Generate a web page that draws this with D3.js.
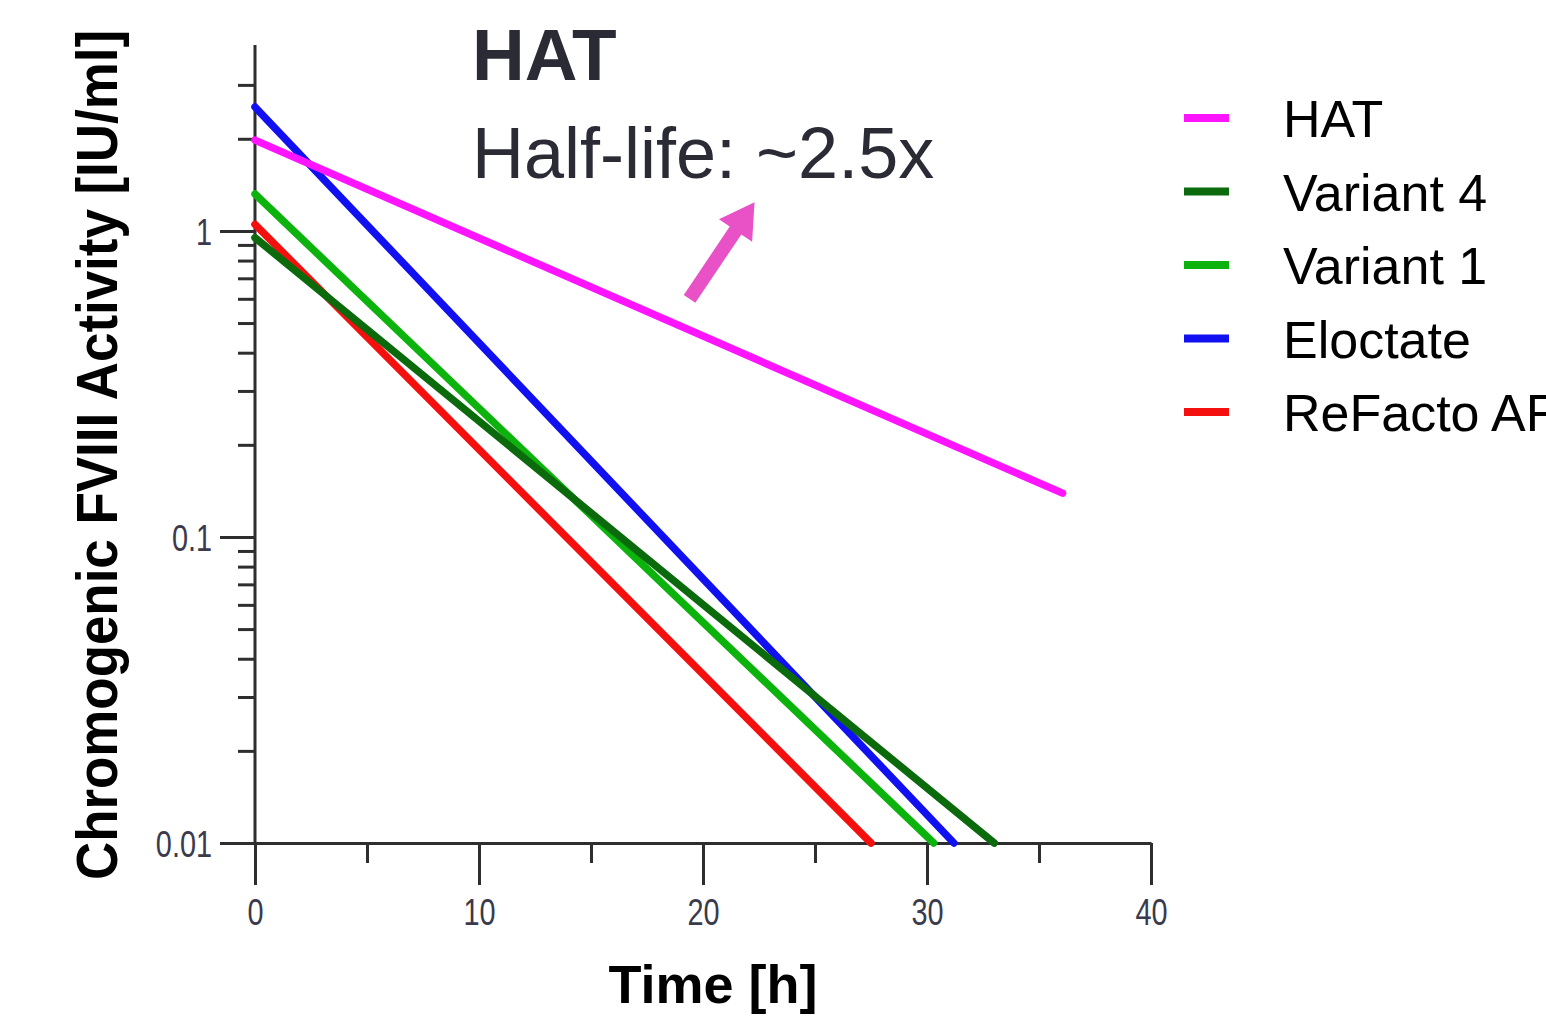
<!DOCTYPE html>
<html>
<head>
<meta charset="utf-8">
<script src="https://cdn.jsdelivr.net/npm/d3@7"></script>
<style>
    body { margin: 0; background: #fff; overflow: hidden; }
    svg { display: block; font-family: "Liberation Sans", Arial, sans-serif; }
</style>
</head>
<body>
<svg width="1546" height="1016"></svg>
<script>
// values: [time h, activity IU/ml], straight decay on log scale
const seriesNames = ["HAT", "Variant 4", "Variant 1", "Eloctate", "ReFacto AF"];
const hatValues = [[0, 1.98], [36.05, 0.139]];
const variant4Values = [[0, 0.95], [33.0, 0.01]];
const variant1Values = [[0, 1.32], [30.3, 0.01]];
const eloctateValues = [[0, 2.54], [31.2, 0.01]];
const refactoValues = [[0, 1.05], [27.5, 0.01]];
const seriesColors = ["#ff14ff", "#0b6a0b", "#0cb30c", "#1010f0", "#f51010"];

const xTicks = [0, 10, 20, 30, 40];
const xMinorTicks = [5, 15, 25, 35];
const yTicks = [0.01, 0.1, 1];
const yTickLabels = ["0.01", "0.1", "1"];

const arrowFrom = [19.4, 0.60];
const arrowTo = [22.3, 1.24];

const margin = { left: 255, top: 45, right: 395, bottom: 173 };
const labelScaleX = 0.78;

let svg = d3.select("svg");
let width = +svg.attr("width");
let height = +svg.attr("height");

let x = d3.scaleLinear([0, 40], [margin.left, width - margin.right]);
let y = d3.scaleLog([0.01, 4.05], [height - margin.bottom, margin.top]);

const axisColor = "#2e2e2e";
const tickTextColor = "#3a3a4c";

// y axis: minor ticks first, then labelled majors
let yMinor = y.ticks().filter(v => !yTicks.includes(v) && v < 4);
svg.append("g")
    .attr("class", "y-minor")
    .attr("transform", `translate(${x(0)},0)`)
    .call(d3.axisLeft(y).tickValues(yMinor).tickSize(17).tickFormat(""))
    .call(g => g.select(".domain").remove());

svg.append("g")
    .attr("class", "y-axis")
    .attr("transform", `translate(${x(0)},0)`)
    .call(d3.axisLeft(y).tickValues(yTicks).tickSize(35).tickSizeOuter(0)
        .tickFormat((d, i) => yTickLabels[i]))
    .call(g => g.select(".domain").attr("d", `M0,${y(0.01)}V${margin.top}`));

// x axis
svg.append("g")
    .attr("class", "x-minor")
    .attr("transform", `translate(0,${y(0.01)})`)
    .call(d3.axisBottom(x).tickValues(xMinorTicks).tickSize(20).tickFormat(""))
    .call(g => g.select(".domain").remove());

svg.append("g")
    .attr("class", "x-axis")
    .attr("transform", `translate(0,${y(0.01)})`)
    .call(d3.axisBottom(x).tickValues(xTicks).tickSize(42).tickSizeOuter(0));

svg.selectAll(".y-minor, .y-axis, .x-minor, .x-axis")
    .call(g => g.selectAll("line, path").attr("stroke", axisColor).attr("stroke-width", 3))
    .call(g => g.selectAll("text")
        .attr("fill", tickTextColor)
        .style("font-size", "37px")
        .attr("font-family", "'Liberation Sans', Arial, sans-serif"));

svg.select(".y-axis").selectAll("text")
    .attr("x", -43 / labelScaleX)
    .attr("dy", "0.36em")
    .attr("transform", `scale(${labelScaleX},1)`);

svg.select(".x-axis").selectAll("text")
    .attr("y", 56)
    .attr("dy", "0.71em")
    .attr("transform", `scale(${labelScaleX},1)`);

// series lines
const allSeries = [hatValues, variant4Values, variant1Values, eloctateValues, refactoValues];
let line = d3.line().x(d => x(d[0])).y(d => y(d[1]));

svg.selectAll(".series")
    .data(allSeries.map((values, i) => ({ values, color: seriesColors[i] })).reverse())
    .join("path")
    .attr("class", "series")
    .attr("fill", "none")
    .attr("stroke", d => d.color)
    .attr("stroke-width", 7.5)
    .attr("stroke-linecap", "round")
    .attr("d", d => line(d.values));

// annotation
svg.append("text")
    .attr("x", 472).attr("y", 80)
    .attr("fill", "#2b2b36")
    .style("font-size", "73px").style("font-weight", "bold")
    .text("HAT");
svg.append("text")
    .attr("x", 472).attr("y", 178)
    .attr("fill", "#2b2b36")
    .style("font-size", "72px")
    .text("Half-life: ~2.5x");

const arrow = selection => {
    let x1 = x(arrowFrom[0]), y1 = y(arrowFrom[1]);
    let x2 = x(arrowTo[0]), y2 = y(arrowTo[1]);
    let len = Math.hypot(x2 - x1, y2 - y1);
    let angle = Math.atan2(y2 - y1, x2 - x1) * 180 / Math.PI;
    let shaft = 7, head = 20, headLen = 34;
    let pts = [[0, -shaft], [len - headLen, -shaft], [len - headLen, -head], [len, 0],
               [len - headLen, head], [len - headLen, shaft], [0, shaft]];
    selection.append("path")
        .attr("d", d3.line()(pts) + "Z")
        .attr("fill", "#e852c6")
        .attr("transform", `translate(${x1},${y1}) rotate(${angle})`);
};
svg.call(arrow);

// axis titles
svg.append("text")
    .attr("x", 713).attr("y", 1003)
    .attr("text-anchor", "middle")
    .style("font-size", "54px").style("font-weight", "bold")
    .text("Time [h]");

svg.append("text")
    .attr("transform", "translate(117,880) rotate(-90)")
    .attr("textLength", 850)
    .attr("lengthAdjust", "spacingAndGlyphs")
    .style("font-size", "58px").style("font-weight", "bold")
    .text("Chromogenic FVIII Activity [IU/ml]");

// legend
let legend = svg.selectAll(".legend-item")
    .data(seriesNames)
    .join("g")
    .attr("class", "legend-item")
    .attr("transform", (d, i) => `translate(1184,${118 + i * 73.5})`);
legend.append("line")
    .attr("x1", 0).attr("x2", 45)
    .attr("stroke", (d, i) => seriesColors[i])
    .attr("stroke-width", 8);
legend.append("text")
    .attr("x", 99).attr("y", 19)
    .style("font-size", "52px")
    .attr("fill", "#000")
    .text(d => d);
</script>
</body>
</html>
